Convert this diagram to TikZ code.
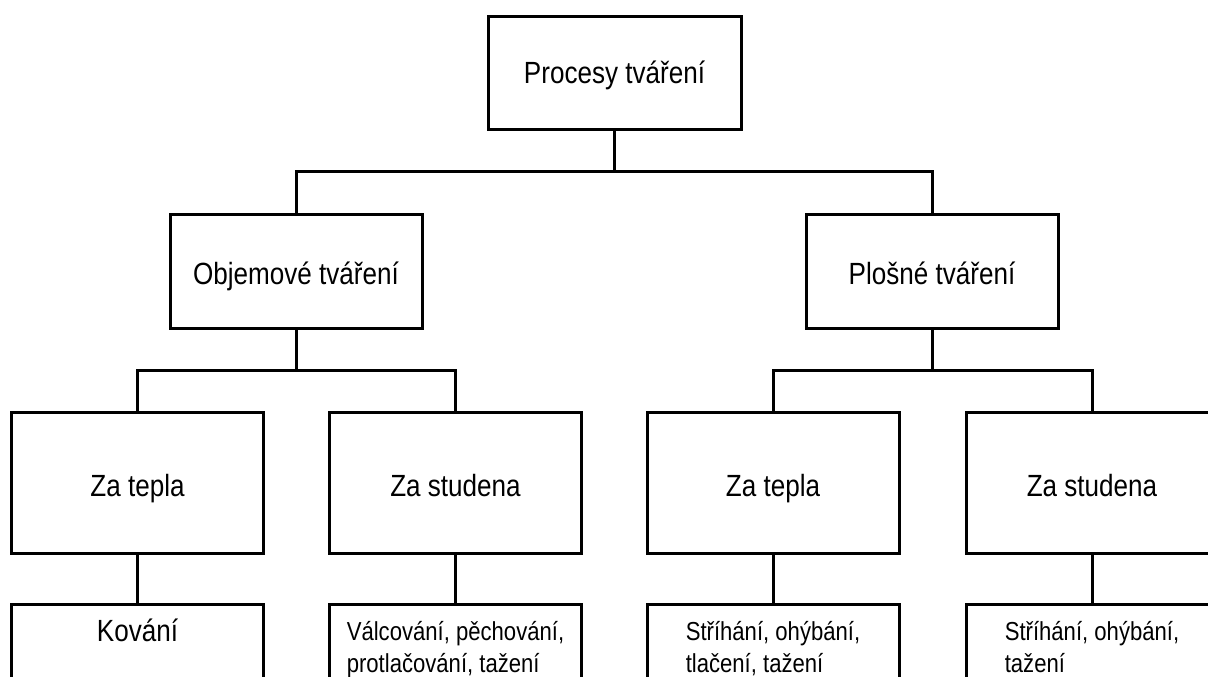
\documentclass[tikz,border=0pt]{standalone}
\usepackage{fontspec}
\setmainfont{Liberation Sans}[FakeStretch=0.85]
\usetikzlibrary{positioning,calc}
\tikzset{
  boxnd/.style={draw, line width=2.25pt, inner sep=0pt, outer sep=0pt,
    minimum width=189pt, text height=22pt, text depth=2.5pt,
    font=\fontsize{23pt}{27pt}\selectfont},
  rowone/.style={boxnd, minimum height=105.75pt, text height=23pt, text depth=2pt},
  rowtwo/.style={boxnd, minimum height=112.5pt},
  listtx/.style={anchor=north, inner sep=0pt, align=left,
    font=\fontsize{19.5pt}{24pt}\selectfont},
  linkln/.style={line width=2.25pt},
}

\begin{document}
\begin{tikzpicture}[x=0.75pt, y=-0.75pt]
    \path[use as bounding box, clip] (0,0) rectangle (1208,676);
    % Top
    \node[boxnd, minimum width=189.75pt, minimum height=84.75pt,
      text height=20pt, text depth=3.5pt] (top) at (614.5,72.5) {Procesy tváření};
    % Second level
    \node[boxnd, minimum height=85.5pt] (obj) at (296,271) {Objemové tváření};
    \node[boxnd, minimum height=85.5pt] (plo) at (932,271) {Plošné tváření};
    % Third level
    \node[rowone] (zt1) at (137.5,482.5) {Za tepla};
    \node[rowone] (zs1) at (455.5,482.5) {Za studena};
    \node[rowone] (zt2) at (773,482.5) {Za tepla};
    \node[rowone] (zs2) at (1092,482.5) {Za studena};
    % Fourth level (cut off at the bottom)
    \node[rowtwo] (kov) at (137.5,679) {};
    \node[rowtwo] (val) at (455.5,679) {};
    \node[rowtwo] (str1) at (773,679) {};
    \node[rowtwo] (str2) at (1092,679) {};
    \node[listtx, font=\fontsize{23pt}{27pt}\selectfont] (kovtx) at ([yshift=-11pt]kov.north) {Kování};
    \node[listtx] (valtx) at ([yshift=-13pt]val.north) {Válcování, pěchování,\\protlačování, tažení};
    \node[listtx] (str1tx) at ([yshift=-13pt]str1.north) {Stříhání, ohýbání,\\tlačení, tažení};
    \node[listtx] (str2tx) at ([yshift=-13pt]str2.north) {Stříhání, ohýbání,\\tažení};
    % Connectors
    \coordinate (b0) at ($(top.south)!0.5!(top.south |- obj.north)$);
    \draw[linkln] (top.south) -- (b0);
    \draw[linkln] (obj.north) |- (b0) -| (plo.north);
    \coordinate (b1) at ($(obj.south)!0.5!(obj.south |- zt1.north)$);
    \draw[linkln] (obj.south) -- (b1);
    \draw[linkln] (zt1.north) |- (b1) -| (zs1.north);
    \coordinate (b2) at ($(plo.south)!0.5!(plo.south |- zt2.north)$);
    \draw[linkln] (plo.south) -- (b2);
    \draw[linkln] (zt2.north) |- (b2) -| (zs2.north);
    \draw[linkln] (zt1.south) -- (kov.north);
    \draw[linkln] (zs1.south) -- (val.north);
    \draw[linkln] (zt2.south) -- (str1.north);
    \draw[linkln] (zs2.south) -- (str2.north);
  \end{tikzpicture}
\end{document}
